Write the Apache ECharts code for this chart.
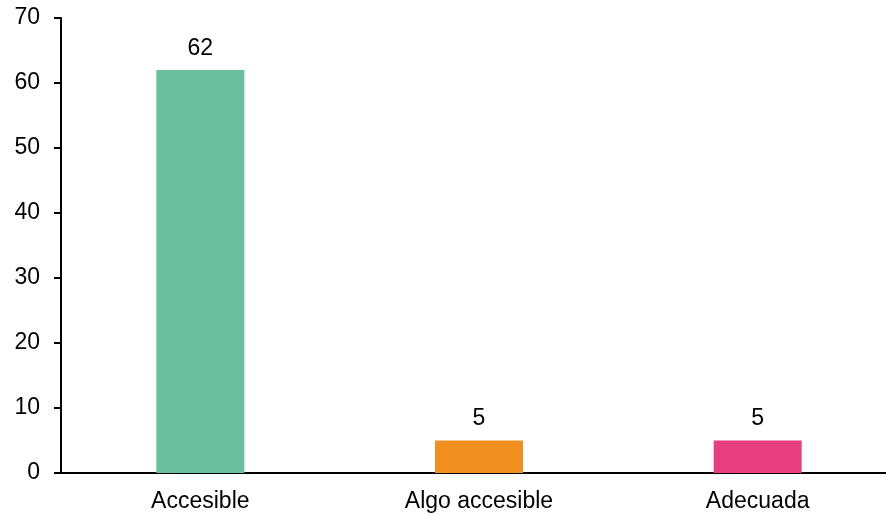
<!DOCTYPE html>
<html><head><meta charset="utf-8">
<script src="https://cdn.jsdelivr.net/npm/echarts@6/dist/echarts.min.js"></script>
<style>html,body{margin:0;padding:0;background:#fff;overflow:hidden;width:886px;height:515px}#c{width:897px;height:515px}</style>
</head><body><div id="c"></div>
<script>
const categories = ['Accesible', 'Algo accesible', 'Adecuada'];
const values = [62, 5, 5];
const barColors = ['#6ABF9F', '#F18F21', '#E83E80'];
const yTicks = {min: 0, max: 70, interval: 10};

const chart = echarts.init(document.getElementById('c'), null, {renderer: 'canvas'});
chart.setOption({
  animation: false,
  backgroundColor: '#fff',
  textStyle: {fontFamily: 'Liberation Sans, Arial, sans-serif'},
  grid: {left: 61, right: 0, top: 18, bottom: 42, containLabel: false},
  xAxis: {
    type: 'category',
    data: categories,
    axisLine: {lineStyle: {color: '#000', width: 2}},
    axisTick: {show: false},
    axisLabel: {color: '#000', fontSize: 23, margin: 17, fontFamily: 'Liberation Sans'}
  },
  yAxis: {
    type: 'value',
    min: yTicks.min, max: yTicks.max, interval: yTicks.interval,
    axisLine: {show: true, lineStyle: {color: '#000', width: 2}},
    axisTick: {show: true, length: 7, lineStyle: {color: '#000', width: 2}},
    splitLine: {show: false},
    axisLabel: {color: '#000', fontSize: 23, margin: 21, padding: [6, 0, 0, 0], fontFamily: 'Liberation Sans'}
  },
  series: [{
    type: 'bar',
    barWidth: 88,
    data: values.map((v, i) => ({value: v, itemStyle: {color: barColors[i]}})),
    label: {show: true, position: 'top', distance: 10, color: '#000', fontSize: 23, fontFamily: 'Liberation Sans'}
  }]
});
</script></body></html>
